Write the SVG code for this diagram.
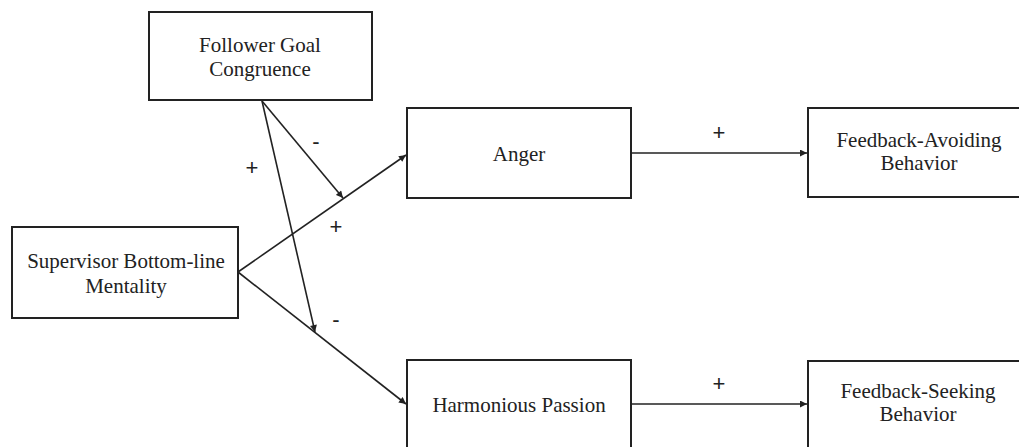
<svg xmlns="http://www.w3.org/2000/svg" width="1019" height="447" viewBox="0 0 1019 447">
<style>
.box{fill:#fff;stroke:#222;stroke-width:2}
.t{font-family:'Liberation Serif','Times New Roman',Times,serif;font-size:21px;fill:#222;text-anchor:middle}
.s{font-family:'Liberation Sans',Arial,sans-serif;font-size:22px;fill:#222;text-anchor:middle}
.c{stroke:#222;stroke-width:1.6;fill:none;marker-end:url(#ah)}
</style>
<defs>
<marker id="ah" viewBox="0 0 10 10" refX="10" refY="5" markerWidth="9" markerHeight="7" markerUnits="userSpaceOnUse" orient="auto">
<path d="M0,0 L10,5 L0,10 z" fill="#222"/>
</marker>
</defs>
<rect width="1019" height="447" fill="#fff"/>
<g id="follower"><rect class="box" x="149" y="12" width="223" height="88"/><text class="t" x="260" y="52">Follower Goal</text><text class="t" x="260" y="76">Congruence</text></g>
<g id="supervisor"><rect class="box" x="12" y="227" width="226" height="91"/><text class="t" x="126" y="268">Supervisor Bottom-line</text><text class="t" x="126" y="293">Mentality</text></g>
<g id="anger"><rect class="box" x="407" y="108" width="224" height="90"/><text class="t" x="519" y="161">Anger</text></g>
<g id="feedback-avoiding"><rect class="box" x="808" y="108" width="220" height="89"/><text class="t" x="919" y="147">Feedback-Avoiding</text><text class="t" x="919" y="170">Behavior</text></g>
<g id="harmonious"><rect class="box" x="407" y="360" width="224" height="100"/><text class="t" x="519" y="412">Harmonious Passion</text></g>
<g id="feedback-seeking"><rect class="box" x="808" y="361" width="220" height="100"/><text class="t" x="918" y="398">Feedback-Seeking</text><text class="t" x="918" y="421">Behavior</text></g>
<g id="connectors">
<line class="c" x1="238" y1="272" x2="406" y2="155"/>
<line class="c" x1="238" y1="272" x2="406" y2="404"/>
<line class="c" x1="262" y1="101" x2="343" y2="198"/>
<line class="c" x1="262" y1="101" x2="315" y2="332"/>
<line class="c" x1="631" y1="153" x2="807" y2="153"/>
<line class="c" x1="631" y1="404" x2="807" y2="404"/>
</g>
<g id="labels">
<text class="s" x="316" y="149">-</text>
<text class="s" x="252" y="175">+</text>
<text class="s" x="336" y="234">+</text>
<text class="s" x="336" y="327">-</text>
<text class="s" x="719" y="140">+</text>
<text class="s" x="719" y="391">+</text>
</g>
</svg>
